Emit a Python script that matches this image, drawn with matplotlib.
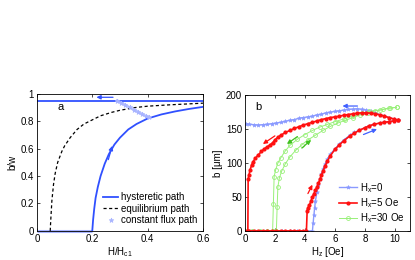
import matplotlib
matplotlib.use("Agg")
import matplotlib.pyplot as plt

plt.rcParams['font.family'] = ['Liberation Sans', 'DejaVu Sans']
plt.rcParams['font.size'] = 7
plt.rcParams['mathtext.fontset'] = 'custom'
plt.rcParams['mathtext.rm'] = 'Liberation Sans'
plt.rcParams['mathtext.it'] = 'Liberation Sans'

# ---- panel a : model ----
hyst_x = [0.2, 0.203, 0.207, 0.212, 0.22, 0.23, 0.245, 0.26, 0.28, 0.3, 0.33, 0.36, 0.4, 0.45, 0.5, 0.55, 0.6]
hyst_y = [0.0, 0.08, 0.16, 0.24, 0.32, 0.4, 0.49, 0.56, 0.63, 0.68, 0.74, 0.78, 0.82, 0.85, 0.872, 0.89, 0.905]
hyst_top = [0.95, 0.95]
hyst_top_x = [0.0, 0.6]

eq_x = [0.048, 0.05, 0.054, 0.06, 0.066, 0.075, 0.09, 0.1, 0.12, 0.145, 0.17, 0.2, 0.23, 0.27, 0.3, 0.355, 0.4, 0.48, 0.55, 0.6]
eq_y = [0.0, 0.08, 0.22, 0.34, 0.42, 0.5, 0.58, 0.62, 0.68, 0.74, 0.78, 0.81, 0.84, 0.865, 0.88, 0.9, 0.91, 0.92, 0.927, 0.932]

flux_x = [0.0, 0.05, 0.1, 0.15, 0.2]
flux_y = [0.0, 0.0, 0.0, 0.0, 0.0]
flux2_x = [0.29, 0.305, 0.32, 0.335, 0.35, 0.365, 0.38, 0.395, 0.405]
flux2_y = [0.95, 0.934, 0.917, 0.901, 0.885, 0.868, 0.852, 0.836, 0.828]

# ---- panel b : experiment ----
# H_x = 0 (up branch then down branch)
b0_up_x = [0.0, 0.5, 1.0, 1.5, 2.0, 2.5, 3.0, 3.5, 4.0, 4.5, 4.55, 4.6, 4.65, 4.7, 4.8, 4.9, 5.0, 5.1, 5.2, 5.35, 5.5,
           5.7, 6.0, 6.3, 6.6, 7.0, 7.3, 7.6, 8.0, 8.3, 8.6, 9.0, 9.3, 9.6, 9.9, 10.2]
b0_up_y = [0, 0, 0, 0, 0, 0, 0, 0, 0, 0, 12, 24, 34, 44, 57, 67, 76, 84, 91, 99, 106,
           113, 121, 128, 134, 141, 145, 148, 152, 155, 157, 159, 160, 161, 162, 163]
b0_dn_x = [10.2, 9.9, 9.6, 9.3, 9.0, 8.7, 8.4, 8.1, 7.8, 7.5, 7.2, 6.9, 6.6, 6.3, 6.0, 5.7, 5.4, 5.1, 4.8, 4.5, 4.2,
           3.9, 3.6, 3.3, 3.0, 2.7, 2.4, 2.1, 1.8, 1.5, 1.2, 0.9, 0.6, 0.3, 0.1]
b0_dn_y = [163, 165, 167, 169, 171, 174, 176, 178, 179, 180, 179.5, 179, 178, 177, 176, 175, 174, 172, 171, 169, 168,
           167, 166, 164, 163, 161.5, 160, 159, 158, 157, 156.5, 156, 156.5, 157, 158]

# H_x = 5 Oe
b5_up_x = [0.0, 0.3, 0.6, 0.9, 1.2, 1.5, 1.8, 2.1, 2.4, 2.7, 3.0, 3.3, 3.6, 3.9, 4.1, 4.15, 4.2, 4.3, 4.4, 4.5, 4.6,
           4.7, 4.8, 4.9, 5.0, 5.1, 5.2, 5.35, 5.5, 5.7, 6.0, 6.3, 6.6, 7.0, 7.3, 7.6, 8.0, 8.3, 8.6, 9.0, 9.3, 9.6, 9.9, 10.2]
b5_up_y = [0, 0, 0, 0, 0, 0, 0, 0, 0, 0, 0, 0, 0, 0, 0, 30, 34, 38, 44, 50, 55,
           60, 65, 70, 76, 82, 88, 96, 103, 111, 120, 127, 133, 140, 144, 148, 152, 155, 157, 159, 160, 161, 162, 163]
b5_dn_x = [10.2, 9.9, 9.6, 9.3, 9.0, 8.7, 8.4, 8.1, 7.8, 7.5, 7.2, 6.9, 6.6, 6.3, 6.0, 5.7, 5.4, 5.1, 4.8, 4.5, 4.2,
           3.9, 3.6, 3.3, 3.0, 2.7, 2.4, 2.2, 2.0, 1.85, 1.7, 1.5, 1.3, 1.1, 0.9, 0.7, 0.55, 0.45, 0.35, 0.28, 0.22, 0.2]
b5_dn_y = [163, 165, 167, 169, 171, 172.5, 173.5, 174, 174, 173.5, 172.5, 171.5, 170.5, 169, 168, 167, 165.5, 164, 162, 160, 158,
           156, 153.5, 151, 148, 145, 141, 138, 134, 130, 127, 124, 121, 117, 112, 107, 102, 97, 90, 83, 76, 0]

# H_x = 30 Oe
b30_up_x = [0.0, 0.5, 1.0, 1.5, 2.0, 2.1, 2.15, 2.2, 2.3, 2.45, 2.7, 3.0, 3.4, 3.8, 4.2, 4.7, 5.2, 5.7, 6.2, 6.7, 7.2,
            7.7, 8.2, 8.7, 9.2, 9.7, 10.1]
b30_up_y = [0, 0, 0, 0, 0, 0, 35, 65, 78, 88, 99, 109, 119, 127, 134, 141, 148, 154, 159, 163, 167,
            171, 174, 177, 179, 181, 182]
b30_dn_x = [10.1, 9.6, 9.0, 8.3, 7.8, 7.2, 6.6, 6.0, 5.5, 5.0, 4.5, 4.0, 3.5, 3.0, 2.7, 2.4, 2.2, 2.05, 1.95, 1.9, 1.85]
b30_dn_y = [182, 181, 178, 176, 173, 169, 165, 161, 157, 153, 148, 142, 135, 126, 118, 108, 100, 90, 80, 40, 0]

fig = plt.figure(figsize=(4.15, 2.6), dpi=100)
ax1 = fig.add_axes([0.089, 0.112, 0.400, 0.527])
ax2 = fig.add_axes([0.590, 0.112, 0.398, 0.522])


def arrow(ax, head, tail, c):
    ax.annotate('', xy=head, xytext=tail,
                arrowprops=dict(arrowstyle='-|>', color=c, lw=0.9, mutation_scale=6,
                                shrinkA=0, shrinkB=0))


# panel a
blue = '#3050ff'
light = '#a8b4ff'
ax1.plot(flux_x, flux_y, color=light, lw=2.2, solid_capstyle='butt', clip_on=False)
ax1.plot(hyst_top_x, hyst_top, color=blue, lw=1.3)
ax1.plot(hyst_x, hyst_y, color=blue, lw=1.3, label='hysteretic path')
ax1.plot(eq_x, eq_y, color='black', lw=0.9, ls=(0, (2.5, 2)), label='equilibrium path')
ax1.plot(flux2_x, flux2_y, color=light, lw=0, marker='*', ms=3.5, mew=0.5, label='constant flux path')
ax1.plot(flux2_x, flux2_y, color=light, lw=2.0, alpha=0.8)
arrow(ax1, (0.215, 0.975), (0.275, 0.975), blue)
arrow(ax1, (0.272, 0.62), (0.258, 0.52), blue)
ax1.text(0.075, 0.905, 'a', fontsize=8, va='center')
ax1.set_xlim(0, 0.6)
ax1.set_ylim(0, 1)
ax1.set_xticks([0, 0.2, 0.4, 0.6])
ax1.set_xticklabels(['0', '0.2', '0.4', '0.6'])
ax1.set_yticks([0, 0.2, 0.4, 0.6, 0.8, 1])
ax1.set_yticklabels(['0', '0.2', '0.4', '0.6', '0.8', '1'])
ax1.set_xlabel('H/H$_{\\rm c1}$', labelpad=1)
ax1.set_ylabel('b/w', labelpad=2)
ax1.legend(loc='lower right', frameon=False, fontsize=7, handlelength=1.5,
           handletextpad=0.3, labelspacing=0.15, borderaxespad=0.2)

# panel b
cb = '#8a9aff'
cr = '#ff1010'
cg = '#98f078'
ax2.plot(b0_up_x, b0_up_y, color=cb, lw=1.0, marker='*', ms=3, mew=0.4, label='H$_x$=0')
ax2.plot(b0_dn_x, b0_dn_y, color=cb, lw=1.0, marker='*', ms=3, mew=0.4)
ax2.plot(b30_up_x, b30_up_y, color=cg, lw=0.7, marker='o', ms=2.8, mfc='none', mew=0.6, label='H$_x$=30 Oe')
ax2.plot(b30_dn_x, b30_dn_y, color=cg, lw=0.7, marker='o', ms=2.8, mfc='none', mew=0.6)
ax2.plot(b5_up_x, b5_up_y, color=cr, lw=1.2, marker='.', ms=4, label='H$_x$=5 Oe')
ax2.plot(b5_dn_x, b5_dn_y, color=cr, lw=1.2, marker='.', ms=4)

arrow(ax2, (6.5, 184), (7.5, 184), '#4060ff')
arrow(ax2, (8.8, 150), (7.9, 142), '#4060ff')
arrow(ax2, (1.2, 128), (2.0, 140), cr)
arrow(ax2, (4.5, 68), (4.2, 55), cr)
arrow(ax2, (2.8, 128), (3.5, 139), '#40c020')
arrow(ax2, (4.4, 134), (3.8, 122), '#40c020')

ax2.text(0.7, 182, 'b', fontsize=8, va='center')
ax2.set_xlim(0, 11)
ax2.set_ylim(0, 200)
ax2.set_xticks([0, 2, 4, 6, 8, 10])
ax2.set_yticks([0, 50, 100, 150, 200])
ax2.set_xlabel('H$_z$ [Oe]', labelpad=1)
ax2.set_ylabel('b [\u03bcm]', labelpad=2)
h, l = ax2.get_legend_handles_labels()
ax2.legend([h[0], h[2], h[1]], [l[0], l[2], l[1]], loc='lower right', frameon=False, fontsize=7,
           handlelength=1.8, handletextpad=0.3, labelspacing=0.15, borderaxespad=0.2)

for ax in (ax1, ax2):
    ax.tick_params(direction='in', top=True, right=True, length=2.5, width=0.5, pad=2)
    for s in ax.spines.values():
        s.set_linewidth(0.6)

fig.savefig('out.png', dpi=100)
